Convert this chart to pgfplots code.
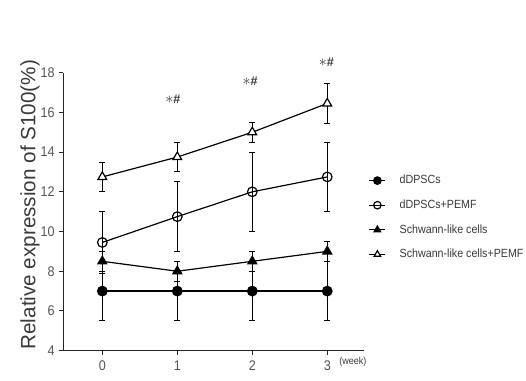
\documentclass[border=0pt]{standalone}
\usepackage{fontspec}
\setmainfont{Liberation Sans}
\newfontfamily\narrow{Liberation Sans}[FakeStretch=0.9]
\usepackage{pgfplots}
\pgfplotsset{compat=1.18}

\definecolor{labelgray}{HTML}{555555}
\definecolor{textgray}{HTML}{3A3A3A}

\begin{document}
\begin{tikzpicture}[x=1pt,y=1pt]
\fill[white] (0,0) rectangle (394.5,285);
\begin{axis}[
  at={(47.5pt,22pt)}, anchor=south west,
  scale only axis,
  width=225.5pt, height=208.5pt,
  xmin=-0.52, xmax=3.49,
  ymin=4, ymax=18,
  xtick={0,1,2,3},
  ytick={4,6,...,18},
  axis x line*=bottom, axis y line*=left,
  axis line style={-, line width=0.9pt, black!85},
  tick align=outside,
  major tick length=3pt,
  tick style={line width=0.7pt, black!85},
  /pgf/number format/assume math mode=true,
  ticklabel style={font=\narrow\fontsize{10.5}{11}\selectfont, text=labelgray},
  xticklabel style={yshift=-1pt},
  ylabel={Relative expression of S100(\%)},
  ylabel style={at={(axis description cs:-0.111,0.525)}, anchor=center,
                font=\fontsize{15.5}{17}\selectfont, text=textgray},
  clip=false,
  every axis plot/.append style={line width=0.9pt, black},
  error bars/error bar style={line width=0.7pt, black},
  error bars/error mark options={rotate=90, mark size=2.2pt, line width=0.7pt},
  legend style={draw=none, fill=none, at={(axis description cs:1.015,0.479)},
                anchor=west, inner xsep=0pt, row sep=6.5pt,
                font=\narrow\fontsize{8.9}{11}\selectfont, text=textgray,
                nodes={inner xsep=6.5pt},
                /tikz/every odd column/.style={column sep=3.8pt}},
  legend cell align=left,
  legend image code/.code={
    \draw[#1, mark=none, line width=0.9pt] (0pt,0pt) -- (12pt,0pt);
    \draw[#1, mark size=2.8pt] plot coordinates {(6pt,0pt)};
  },
]
% dDPSCs
\addplot[mark=*, mark size=3.6pt, mark options={fill=black},
  error bars/.cd, y dir=both, y explicit]
  coordinates {(0,7.0) +- (0,1.5) (1,7.0) +- (0,1.5) (2,7.0) +- (0,1.5) (3,7.0) +- (0,1.5)};
\addlegendentry{dDPSCs}
% dDPSCs + PEMF
\addplot[mark=o, mark size=3.6pt, mark options={fill=white},
  error bars/.cd, y dir=both, y explicit]
  coordinates {(0,9.45) +- (0,1.55) (1,10.75) +- (0,1.75) (2,12.0) +- (0,2.0) (3,12.75) +- (0,1.75)};
\addlegendentry{dDPSCs+PEMF}
% Schwann-like cells
\addplot[mark=triangle*, mark size=3.8pt, mark options={fill=black},
  error bars/.cd, y dir=both, y explicit]
  coordinates {(0,8.5) +- (0,0.5) (1,8.0) +- (0,0.5) (2,8.5) +- (0,0.5) (3,9.0) +- (0,0.5)};
\addlegendentry{Schwann-like cells}
% Schwann-like cells + PEMF
\addplot[mark=triangle*, mark size=3.8pt, mark options={fill=white},
  error bars/.cd, y dir=both, y explicit]
  coordinates {(0,12.75) +- (0,0.75) (1,13.75) +- (0,0.75) (2,15.0) +- (0,0.5) (3,16.45) +- (0,1.0)};
\addlegendentry{Schwann-like cells+PEMF}

% significance marks
\tikzset{sig/.style={font=\bfseries\fontsize{9.5}{9.5}\selectfont, text=textgray, inner sep=0pt}}
\node[sig] at (axis cs:0.94,16.66) {{\large$\ast$}\#};
\node[sig] at (axis cs:1.97,17.58) {{\large$\ast$}\#};
\node[sig] at (axis cs:2.99,18.55) {{\large$\ast$}\#};
% time unit
\node[font=\narrow\fontsize{7.5}{8}\selectfont, text=textgray, anchor=west]
  at (axis cs:3.1,4) [yshift=-8.5pt] {(week)};
\end{axis}
\pgfresetboundingbox
\useasboundingbox (0,0) rectangle (394.5,285);
\end{tikzpicture}
\end{document}
